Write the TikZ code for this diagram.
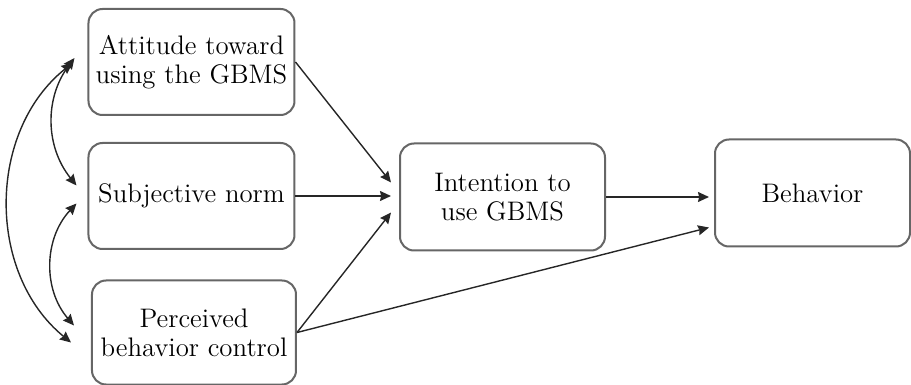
\documentclass[tikz,border=0pt]{standalone}
\usepackage{amsmath, amssymb}
\usetikzlibrary{positioning,calc}
\usetikzlibrary{arrows.meta}

\begin{document}
\begin{tikzpicture}[> = {Stealth[length=5.5pt, width=5pt, inset=0.6pt]}, auto, node distance = 67pt, semithick]
\tikzstyle{box}=[
  draw = black!60,
  line width = 1pt,
  rounded corners = 7pt,
  align = center,
  inner sep = 1.5pt,
  minimum width = 103pt,
  minimum height = 53pt,
  font = \fontsize{13.4}{14.5}\selectfont
]
\tikzstyle{link}=[black!85, line width = 0.7pt]

\useasboundingbox (-95.75pt,31pt) rectangle (359.75pt,-161.5pt);

\node[box] (A) {Attitude toward\\using the GBMS};
\node[box] (S) [below of = A] {Subjective norm};
\node[box, minimum width = 102pt, minimum height = 52pt] (P) [below of = S, xshift = 1.25pt, yshift = -1.25pt] {Perceived\\behavior control};
\node[box, minimum width = 102.5pt, minimum height = 53.5pt] (I) [right of = S, xshift = 88.5pt, yshift = -0.5pt] {Intention to\\use GBMS};
\node[box, minimum width = 97.5pt, minimum height = 53.5pt] (B) [right of = I, xshift = 88pt, yshift = 2pt] {Behavior};

\draw[->, link] (A.east) -- ($(I.west)+(-4pt,7.25pt)$);
\draw[->, link] (S.east) -- ($(S.east -| I.west)+(-4pt,0)$);
\draw[->, link] (P.east) -- ($(I.west)+(-4pt,-7.75pt)$);
\draw[->, link] (P.east) -- ($(B.west)+(-2.5pt,-17.25pt)$);
\draw[->, link] (I.east) -- ($(I.east -| B.west)+(-2.5pt,0)$);

% correlations on the left
\draw[<->, link] ($(A.west)+(-6.5pt,2pt)$) to[bend right = 38] ($(S.west)+(-5.5pt,5.25pt)$);
\draw[<->, link] ($(S.west)+(-5.5pt,-3.75pt)$) to[bend right = 42] ($(P.west)+(-8.5pt,3.5pt)$);
\draw[<->, link] ($(A.west)+(-7.5pt,-0.5pt)$) to[bend right = 51] ($(P.west)+(-10pt,-5pt)$);
\end{tikzpicture}
\end{document}
